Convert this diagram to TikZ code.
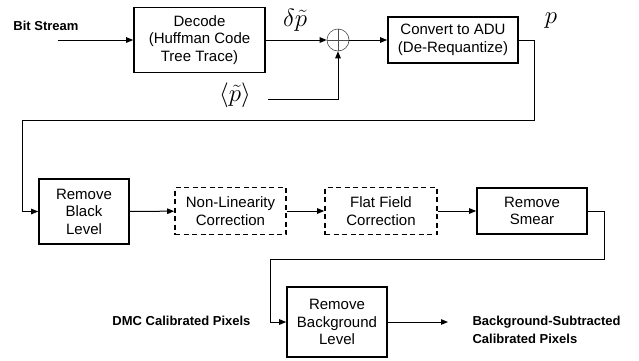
\documentclass[tikz,border=0pt]{standalone}
\usepackage{fontspec}
\setmainfont{Liberation Sans}
\usepackage{amsmath,amssymb}
\usetikzlibrary{arrows.meta}

\tikzset{
  block/.style={draw, line width=1.6pt, align=center, inner sep=0pt,
    font=\fontsize{15}{17.5}\selectfont},
  dashblock/.style={block, dash pattern=on 5pt off 3.5pt},
  flow/.style={line width=1pt, -{Triangle[length=7pt,width=5.5pt]}},
  tag/.style={font=\fontsize{13}{18}\selectfont\bfseries},
  mathtag/.style={font=\fontsize{24}{26}\selectfont}
}

\begin{document}
\begin{tikzpicture}[x=1pt, y=-1pt]
            \useasboundingbox (0,0) rectangle (639,360);

            % Decodificar y sumar
            \node[block, minimum width=131pt, minimum height=65pt] (decode) at (199.5,40)
              {Decode\\(Huffman Code\\Tree Trace)};
            \node[draw=black!70, line width=0.6pt, circle, minimum size=22pt, inner sep=0pt] (sum) at (338,40) {};
            \draw[black!70, line width=0.6pt] (sum.north) -- (sum.south) (sum.west) -- (sum.east);
            \node[block, minimum width=130pt, minimum height=46pt] (convert) at (453,40)
              {Convert to ADU\\(De-Requantize)};

            % Etiquetas de entrada
            \node[tag] (bits) at (46,26) {Bit Stream};
            \coordinate (bitsin) at (58,40);
            \node[mathtag] (dp) at (295,20) {$\delta\tilde{p}$};
            \node[mathtag] (pavg) at (235,95) {$\langle\tilde{p}\rangle$};
            \coordinate (pavgout) at (268,99);
            \node[mathtag] (pout) at (551,21) {$p$};

            % Cadena de calibracion
            \node[block, minimum width=90pt, minimum height=65pt] (black) at (84,211.5)
              {Remove\\Black\\Level};
            \node[dashblock, minimum width=111pt, minimum height=47pt] (nonlin) at (230.5,211)
              {Non-Linearity\\Correction};
            \node[dashblock, minimum width=112pt, minimum height=47pt] (flat) at (381,211)
              {Flat Field\\Correction};
            \node[block, minimum width=110pt, minimum height=46pt] (smear) at (532,211)
              {Remove\\Smear};

            % Fondo
            \node[block, minimum width=100pt, minimum height=70pt] (bg) at (337,322)
              {Remove\\Background\\Level};
            \node[tag, anchor=east] (dmc) at (254,321) {DMC Calibrated Pixels};
            \node[tag, anchor=west, align=left] (bgsub) at (469,330)
              {Background-Subtracted\\Calibrated Pixels};
            \coordinate (bgout) at (448,322);

            % Conexiones
            \draw[flow] (bitsin) -- (decode);
            \draw[flow] (decode) -- (sum);
            \draw[flow] (pavgout) -| (sum);
            \draw[flow] (sum) -- (convert);
            \draw[flow] (convert.east) -- ++(16,0) |- (22,120) |- (black.west);
            \foreach \a/\b in {black/nonlin, nonlin/flat, flat/smear} {
                \draw[flow] (\a) -- (\b);
            }
            \draw[flow] (smear.east) -- ++(17,0) |- (270,259) |- (bg.west);
            \draw[flow] (bg) -- (bgout);
        \end{tikzpicture}
\end{document}
